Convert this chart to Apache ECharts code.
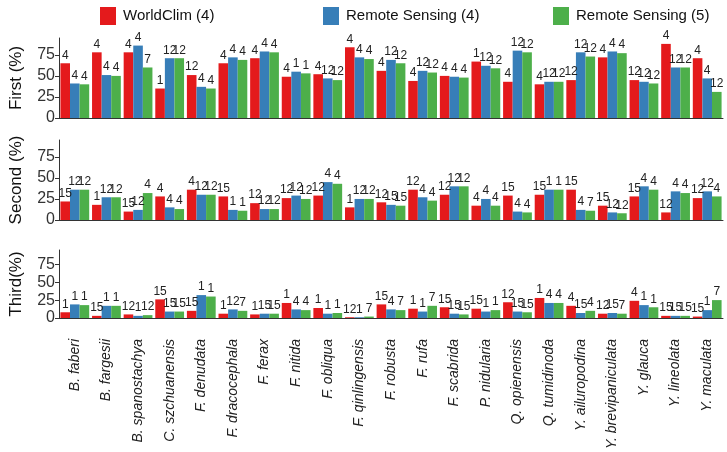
<!DOCTYPE html>
<html>
<head>
<meta charset="utf-8">
<script src="https://cdn.jsdelivr.net/npm/echarts@6/dist/echarts.min.js"></script>
<style>
  html, body { margin: 0; padding: 0; background: #fff; }
  #chart { width: 727px; height: 452px; }
</style>
</head>
<body>
<div id="chart"></div>
<script>
// species on the x axis
const species = ['B. faberi', 'B. fargesii', 'B. spanostachya', 'C. szchuanensis', 'F. denudata',
    'F. dracocephala', 'F. ferax', 'F. nitida', 'F. obliqua', 'F. qinlingensis', 'F. robusta',
    'F. rufa', 'F. scabrida', 'P. nidularia', 'Q. opienensis', 'Q. tumidinoda', 'Y. ailuropodina',
    'Y. brevipaniculata', 'Y. glauca', 'Y. lineolata', 'Y. maculata'];

const seriesNames = ['WorldClim (4)', 'Remote Sensing (4)', 'Remote Sensing (5)'];
const yTicks = [0, 25, 50, 75];

// First (%)
const firstWC  = [65, 78, 78, 35, 51, 65, 71, 49, 52, 84, 56, 44, 50, 67, 43, 40, 45, 72, 45, 88, 71];
const firstRS4 = [41, 51, 86, 71, 37, 72, 79, 55, 47, 72, 69, 56, 49, 62, 80, 43, 78, 79, 43, 60, 47];
const firstRS5 = [40, 50, 60, 71, 35, 69, 78, 53, 45, 70, 65, 54, 48, 59, 78, 43, 73, 77, 41, 60, 31];
const firstWCLab  = [4, 4, 4, 1, 12, 4, 4, 4, 4, 4, 4, 4, 4, 1, 4, 4, 12, 4, 12, 4, 4];
const firstRS4Lab = [4, 4, 4, 12, 4, 4, 4, 1, 12, 4, 12, 12, 4, 12, 12, 12, 12, 4, 12, 12, 4];
const firstRS5Lab = [4, 4, 7, 12, 4, 4, 4, 1, 12, 4, 12, 12, 4, 12, 12, 12, 12, 4, 12, 12, 12];

// Second (%)
const secondWC  = [22, 18, 10, 28, 36, 28, 20, 26, 29, 15, 21, 36, 30, 17, 29, 30, 36, 17, 28, 9, 26];
const secondRS4 = [36, 27, 12, 15, 30, 12, 13, 29, 45, 25, 18, 27, 40, 25, 10, 36, 12, 9, 40, 34, 34];
const secondRS5 = [36, 27, 32, 13, 30, 11, 13, 25, 43, 25, 17, 23, 40, 17, 9, 36, 11, 8, 36, 32, 28];
const secondWCLab  = [15, 1, 15, 4, 4, 15, 12, 12, 12, 1, 12, 12, 12, 4, 15, 15, 15, 15, 15, 12, 12];
const secondRS4Lab = [12, 12, 12, 4, 12, 1, 12, 12, 4, 12, 15, 4, 12, 4, 4, 1, 4, 12, 4, 4, 12];
const secondRS5Lab = [12, 12, 4, 4, 12, 1, 12, 12, 4, 12, 15, 4, 12, 4, 4, 1, 7, 12, 4, 4, 4];

// Third (%)
const thirdWC  = [8, 3, 5, 26, 10, 6, 5, 21, 14, 1, 19, 13, 15, 13, 22, 28, 17, 6, 24, 3, 2];
const thirdRS4 = [19, 17, 3, 9, 32, 12, 6, 12, 6, 1, 12, 9, 6, 9, 9, 21, 7, 7, 18, 3, 11];
const thirdRS5 = [18, 17, 4, 9, 30, 10, 6, 11, 7, 2, 11, 17, 5, 11, 8, 21, 10, 6, 15, 3, 25];
const thirdWCLab  = [1, 15, 12, 15, 15, 1, 1, 1, 1, 12, 15, 1, 15, 15, 12, 1, 4, 12, 4, 15, 15];
const thirdRS4Lab = [1, 1, 1, 15, 1, 12, 15, 4, 1, 1, 4, 1, 15, 1, 15, 4, 15, 15, 1, 15, 1];
const thirdRS5Lab = [1, 1, 12, 15, 1, 7, 15, 4, 1, 7, 7, 7, 15, 1, 15, 4, 4, 7, 1, 15, 7];

const colors = ['#E41A1C', '#377EB8', '#4DAF4A'];

const panels = [
    { name: 'First (%)', data: [firstWC, firstRS4, firstRS5], labs: [firstWCLab, firstRS4Lab, firstRS5Lab], top: 38 },
    { name: 'Second (%)', data: [secondWC, secondRS4, secondRS5], labs: [secondWCLab, secondRS4Lab, secondRS5Lab], top: 140 },
    { name: 'Third(%)', data: [thirdWC, thirdRS4, thirdRS5], labs: [thirdWCLab, thirdRS4Lab, thirdRS5Lab], top: 250 }
];

var chart = echarts.init(document.getElementById('chart'));

let grids = [], xAxes = [], yAxes = [], series = [];
panels.forEach(function (p, i) {
    grids.push({ left: 51, right: 4, top: p.top, height: 80 });
    xAxes.push({
        type: 'category',
        gridIndex: i,
        data: species,
        axisLine: { lineStyle: { color: '#333', width: 1 } },
        axisTick: { alignWithLabel: true, length: 5, lineStyle: { color: '#333' } },
        axisLabel: {
            show: i == 2,
            rotate: 90,
            interval: 0,
            margin: 21,
            fontStyle: 'italic',
            fontSize: 14,
            fontFamily: 'Liberation Sans',
            color: '#222'
        }
    });
    yAxes.push({
        type: 'value',
        gridIndex: i,
        min: 0,
        max: 95,
        interval: 25,
        name: p.name,
        nameLocation: 'middle',
        nameGap: 34,
        nameTextStyle: { fontSize: 17, fontFamily: 'Liberation Sans', color: '#111' },
        splitLine: { show: false },
        axisLine: { show: true, lineStyle: { color: '#333', width: 1 } },
        axisTick: { show: true, length: 4, lineStyle: { color: '#333' } },
        axisLabel: {
            fontSize: 16,
            fontFamily: 'Liberation Sans',
            color: '#333',
            margin: 4,
            showMaxLabel: false,
            formatter: function (v) { return yTicks.indexOf(v) >= 0 ? v : ''; }
        }
    });
    p.data.forEach(function (vals, s) {
        let labs = p.labs[s];
        series.push({
            name: seriesNames[s],
            type: 'bar',
            xAxisIndex: i,
            yAxisIndex: i,
            data: vals,
            barGap: '0%',
            barCategoryGap: '9%',
            itemStyle: { color: colors[s] },
            label: {
                show: true,
                position: 'top',
                distance: 2,
                fontSize: 12,
                fontFamily: 'Liberation Sans',
                color: '#222',
                formatter: function (d) { return labs[d.dataIndex]; }
            }
        });
    });
});

// one legend per item so the spacing can follow the picture
const legendLeft = [95, 318, 548];
let legends = seriesNames.map(function (n, k) {
    return {
        data: [n],
        left: legendLeft[k],
        top: 2,
        icon: 'rect',
        itemWidth: 16,
        itemHeight: 18,
        itemGap: 0,
        textStyle: { fontSize: 15, fontFamily: 'Liberation Sans', color: '#111', padding: [0, 0, 0, 2] },
        selectedMode: false
    };
});

option = {
    animation: false,
    legend: legends,
    grid: grids,
    xAxis: xAxes,
    yAxis: yAxes,
    series: series
};
chart.setOption(option);
</script>
</body>
</html>
